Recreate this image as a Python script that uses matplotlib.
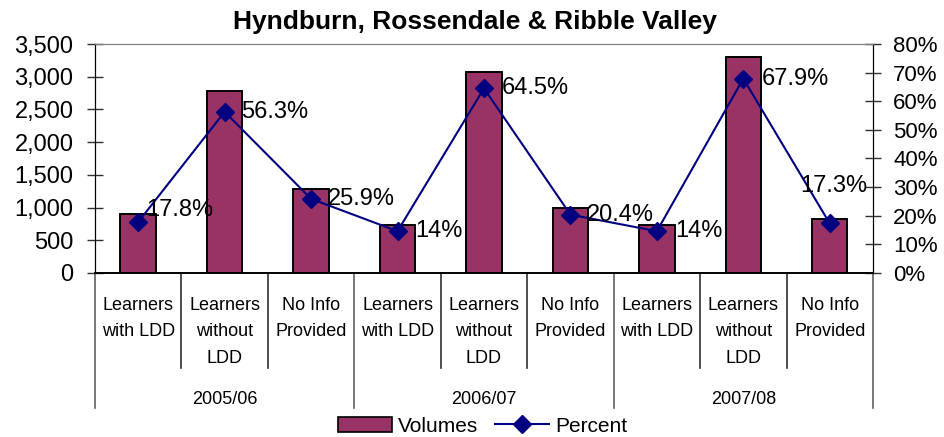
import matplotlib
matplotlib.use("Agg")
import matplotlib.pyplot as plt
from matplotlib.patches import Patch
from matplotlib.lines import Line2D
from matplotlib.ticker import FuncFormatter, MultipleLocator

plt.rcParams['font.family'] = ['Liberation Sans', 'DejaVu Sans']

title = "Hyndburn, Rossendale & Ribble Valley"
years = ["2005/06", "2006/07", "2007/08"]
categories = ["Learners\nwith LDD", "Learners\nwithout\nLDD", "No Info\nProvided"] * 3
volumes = [900, 2780, 1290, 730, 3070, 990, 730, 3300, 830]
percent = [17.8, 56.3, 25.9, 14.6, 64.5, 20.4, 14.6, 67.9, 17.3]
percent_labels = ["17.8%", "56.3%", "25.9%", "14%", "64.5%", "20.4%", "14%", "67.9%", "17.3%"]
# label offsets (points) from marker
label_offsets = [(6, 9), (12, 0), (12, 0), (13, 0), (13, 0), (12, 0), (13, 0), (13, 0), (-21, 27)]

bar_color = "#993366"
line_color = "#000080"

fig = plt.figure(figsize=(9.45, 4.37), dpi=100)
ax = fig.add_axes([0.1005, 0.3753, 0.8233, 0.524])
ax2 = ax.twinx()

x = list(range(len(volumes)))
ax.bar(x, volumes, width=0.41, color=bar_color, edgecolor="black", linewidth=1.4, zorder=2)
ax.set_xlim(-0.5, len(volumes) - 0.5)
ax.set_ylim(0, 3500)
ax.yaxis.set_major_locator(MultipleLocator(500))
ax.yaxis.set_major_formatter(FuncFormatter(lambda v, p: f"{v:,.0f}"))
ax.set_xticks([])

ax2.plot(x, percent, color=line_color, linewidth=1.5, marker="D", markersize=9, zorder=3)
ax2.set_ylim(0, 80)
ax2.yaxis.set_major_locator(MultipleLocator(10))
ax2.yaxis.set_major_formatter(FuncFormatter(lambda v, p: f"{v:.0f}%"))
for xi, pv, lab, off in zip(x, percent, percent_labels, label_offsets):
    ax2.annotate(lab, (xi, pv), xytext=off, textcoords="offset points",
                 ha="left", va="center", fontsize=17, color="black")

for a in (ax, ax2):
    a.spines['top'].set_color("#808080")
    a.spines['bottom'].set_color("black")
    a.spines['left'].set_color("black")
    a.spines['right'].set_color("black")
    a.spines['bottom'].set_linewidth(1.2)
ax.tick_params(axis='y', direction='inout', length=11, width=1, labelsize=17, pad=10, color="#303030")
ax2.tick_params(axis='y', direction='inout', length=11, width=1, labelsize=16, pad=9, color="#303030")

tr = ax.get_xaxis_transform()
n = len(volumes)
for b in range(n + 1):
    xb = b - 0.5
    if b % 3 == 0:
        ax.plot([xb, xb], [0, -0.59], transform=tr, clip_on=False, color="#606060", linewidth=1.2)
    else:
        ax.plot([xb, xb], [0, -0.415], transform=tr, clip_on=False, color="#303030", linewidth=1.2)

for xi, lab in zip(x, categories):
    ax.text(xi, -0.105, lab, transform=tr, ha="center", va="top", fontsize=13, linespacing=1.72)
for gi, yr in enumerate(years):
    ax.text(gi * 3 + 1, -0.553, yr, transform=tr, ha="center", va="center", fontsize=13)

fig.text(0.503, 0.95, title, ha="center", va="center", fontsize=19, fontweight="bold")

handles = [Patch(facecolor=bar_color, edgecolor="black", linewidth=1.2, label="Volumes"),
           Line2D([0], [0], color=line_color, linewidth=1.5, marker="D", markersize=9, label="Percent")]
fig.legend(handles=handles, loc="center", bbox_to_anchor=(0.511, 0.025), ncol=2, frameon=False,
           fontsize=15, handlelength=2.6, columnspacing=0.8, handletextpad=0.3, borderpad=0)

fig.savefig("out.png", dpi=100)
